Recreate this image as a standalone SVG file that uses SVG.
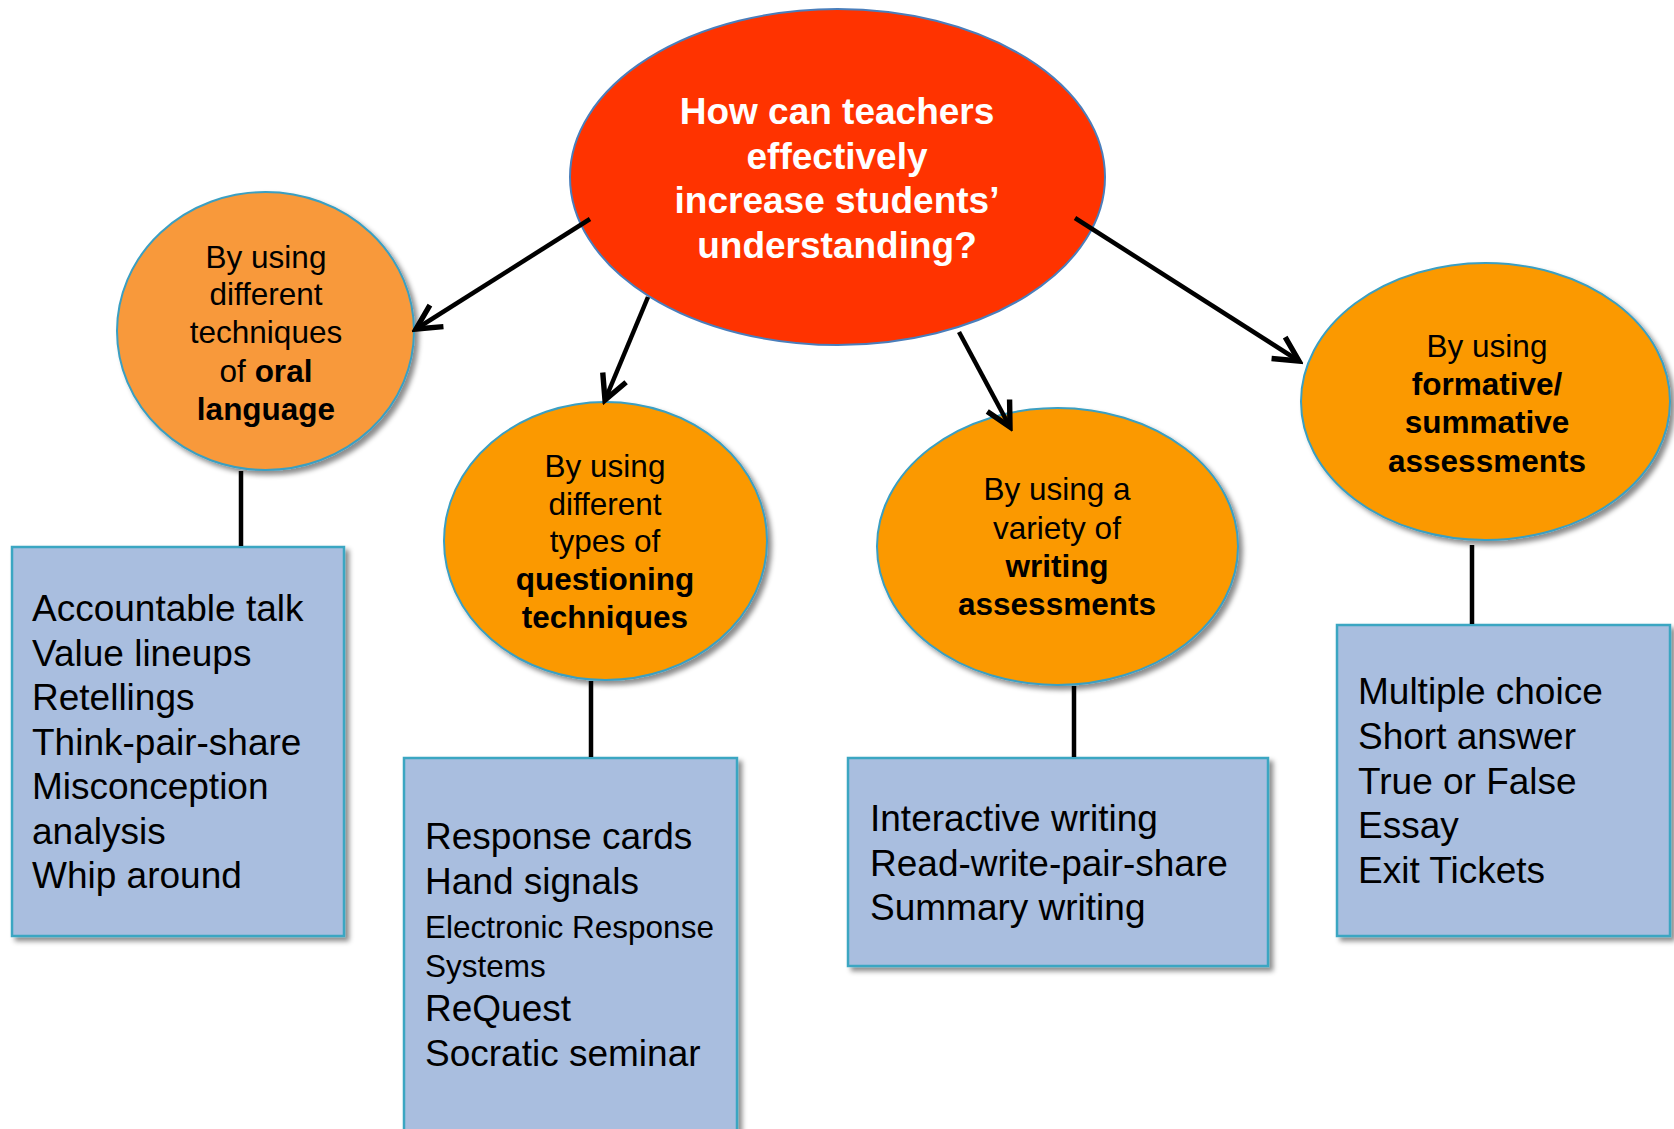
<svg xmlns="http://www.w3.org/2000/svg" width="1674" height="1129" viewBox="0 0 1674 1129">
<defs>
<filter id="sh" x="-10%" y="-10%" width="130%" height="130%">
<feDropShadow dx="4" dy="4" stdDeviation="2.5" flood-color="#000" flood-opacity="0.45"/>
</filter>
<marker id="arr" viewBox="0 0 20 20" refX="17" refY="10" markerWidth="7.5" markerHeight="7.5" orient="auto" markerUnits="strokeWidth">
<path d="M2.5,2.5 L17,10 L2.5,17.5" fill="none" stroke="#000" stroke-width="3.2" stroke-linejoin="miter"/>
</marker>
<style>
text{font-family:"Liberation Sans",Arial,sans-serif;fill:#000}
.t{font-size:31.5px;text-anchor:middle}
.b{font-weight:bold}
.l{font-size:37px}
.s{font-size:31.5px}
.q{font-size:37px;font-weight:bold;fill:#fff;text-anchor:middle}
.ov{fill:#FB9900;stroke:#3A9FC2;stroke-width:2}
.bx{fill:#A9BEDF;stroke:#3AA6C2;stroke-width:2.5}
.c{stroke:#000;stroke-width:4.5;fill:none}
</style>
</defs>
<g id="center">
<ellipse cx="837.5" cy="177" rx="267.5" ry="168" fill="#FF3300" stroke="#4A7EBB" stroke-width="2"/>
<text class="q" x="837" y="124">How can teachers</text>
<text class="q" x="837" y="168.5">effectively</text>
<text class="q" x="837" y="213">increase students’</text>
<text class="q" x="837" y="257.5">understanding?</text>
</g>
<g id="oral">
<ellipse cx="265.5" cy="331" rx="148.5" ry="139" class="ov" style="fill:#F8993A" filter="url(#sh)"/>
<text class="t" x="266" y="268">By using</text>
<text class="t" x="266" y="305">different</text>
<text class="t" x="266" y="343">techniques</text>
<text class="t" x="266" y="382">of <tspan class="b">oral</tspan></text>
<text class="t b" x="266" y="420">language</text>
</g>
<g id="questioning">
<ellipse cx="605.5" cy="541" rx="161.5" ry="139" class="ov" filter="url(#sh)"/>
<text class="t" x="605" y="477">By using</text>
<text class="t" x="605" y="515">different</text>
<text class="t" x="605" y="552">types of</text>
<text class="t b" x="605" y="590">questioning</text>
<text class="t b" x="605" y="628">techniques</text>
</g>
<g id="writing">
<ellipse cx="1057.5" cy="546.5" rx="180.5" ry="138.5" class="ov" filter="url(#sh)"/>
<text class="t" x="1057" y="500">By using a</text>
<text class="t" x="1057" y="538.5">variety of</text>
<text class="t b" x="1057" y="577">writing</text>
<text class="t b" x="1057" y="615">assessments</text>
</g>
<g id="formative">
<ellipse cx="1485.5" cy="401.5" rx="184.5" ry="138.5" class="ov" filter="url(#sh)"/>
<text class="t" x="1487" y="357">By using</text>
<text class="t b" x="1487" y="395">formative/</text>
<text class="t b" x="1487" y="433">summative</text>
<text class="t b" x="1487" y="472">assessments</text>
</g>
<g id="box-oral">
<rect x="12" y="547" width="332" height="389" class="bx" filter="url(#sh)"/>
<text class="l" x="32" y="621">Accountable talk</text>
<text class="l" x="32" y="665.5">Value lineups</text>
<text class="l" x="32" y="710">Retellings</text>
<text class="l" x="32" y="754.5">Think-pair-share</text>
<text class="l" x="32" y="799">Misconception</text>
<text class="l" x="32" y="843.5">analysis</text>
<text class="l" x="32" y="888">Whip around</text>
</g>
<g id="box-questioning">
<rect x="404" y="758" width="333" height="380" class="bx" filter="url(#sh)"/>
<text class="l" x="425" y="849">Response cards</text>
<text class="l" x="425" y="894">Hand signals</text>
<text class="s" x="425" y="938">Electronic Response</text>
<text class="s" x="425" y="977">Systems</text>
<text class="l" x="425" y="1021">ReQuest</text>
<text class="l" x="425" y="1066">Socratic seminar</text>
</g>
<g id="box-writing">
<rect x="848" y="758" width="420" height="208" class="bx" filter="url(#sh)"/>
<text class="l" x="870" y="831">Interactive writing</text>
<text class="l" x="870" y="875.5">Read-write-pair-share</text>
<text class="l" x="870" y="920">Summary writing</text>
</g>
<g id="box-formative">
<rect x="1337" y="625" width="333" height="311" class="bx" filter="url(#sh)"/>
<text class="l" x="1358" y="704">Multiple choice</text>
<text class="l" x="1358" y="749">Short answer</text>
<text class="l" x="1358" y="794">True or False</text>
<text class="l" x="1358" y="838">Essay</text>
<text class="l" x="1358" y="883">Exit Tickets</text>
</g>
<g id="connectors">
<line class="c" x1="590" y1="219" x2="416" y2="329" marker-end="url(#arr)"/>
<line class="c" x1="648" y1="297" x2="605" y2="400" marker-end="url(#arr)"/>
<line class="c" x1="959" y1="332" x2="1010" y2="427" marker-end="url(#arr)"/>
<line class="c" x1="1075" y1="218" x2="1299" y2="361" marker-end="url(#arr)"/>
<line class="c" x1="241" y1="471" x2="241" y2="546"/>
<line class="c" x1="591" y1="681" x2="591" y2="757"/>
<line class="c" x1="1074" y1="686" x2="1074" y2="757"/>
<line class="c" x1="1472" y1="545" x2="1472" y2="624"/>
</g>
</svg>
